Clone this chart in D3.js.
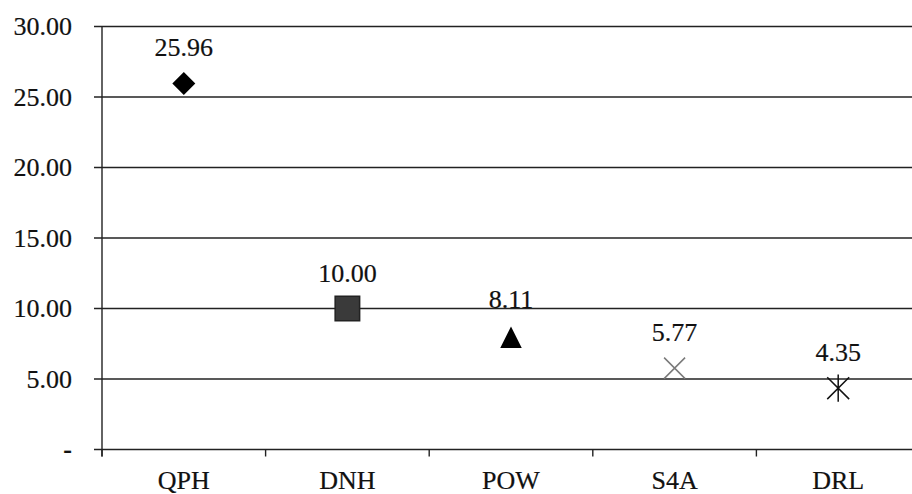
<!DOCTYPE html>
<html lang="en">
<head>
<meta charset="UTF-8">
<title>Scores by method</title>
<script src="https://d3js.org/d3.v7.min.js"></script>
<style>
  body { margin: 0; background: #fff; }
  text { font-family: "Liberation Serif", "Times New Roman", serif; fill: #111; stroke: #111; stroke-width: 0.2px; }
</style>
</head>
<body>
<svg id="chart" width="912" height="494"></svg>
<script>
const categories = ["QPH", "DNH", "POW", "S4A", "DRL"];
const values = [25.96, 10.00, 8.11, 5.77, 4.35];
const yTicks = [0, 5, 10, 15, 20, 25, 30];

const svg = d3.select("#chart");
const plotLeft = 102, plotRight = 920, plotTop = 26.5, plotBottom = 449.5;

const x = d3.scaleBand().domain(categories).range([plotLeft, plotRight]).padding(0);
const y = d3.scaleLinear().domain([0, 30]).range([plotBottom, plotTop]);

// custom symbols, centred on their bounding box like spreadsheet markers
const crossX = {
  draw(ctx, size) {
    const r = Math.sqrt(size) / 2;
    ctx.moveTo(-r, -r); ctx.lineTo(r, r);
    ctx.moveTo(r, -r); ctx.lineTo(-r, r);
  }
};
const star = {
  draw(ctx, size) {
    const r = Math.sqrt(size) / 2;
    ctx.moveTo(-r, -r); ctx.lineTo(r, r);
    ctx.moveTo(r, -r); ctx.lineTo(-r, r);
    ctx.moveTo(0, -r * 1.25); ctx.lineTo(0, r * 1.25);
  }
};
const triangle = {
  draw(ctx, size) {
    const r = Math.sqrt(size) / 2;
    ctx.moveTo(0, -r + 2);
    ctx.lineTo(r, r + 2);
    ctx.lineTo(-r, r + 2);
    ctx.closePath();
  }
};

const markers = [
  { type: d3.symbolSquare, size: 265, rotate: 45, fill: "#000", stroke: "none" },
  { type: d3.symbolSquare, size: 600, rotate: 0, fill: "#3a3a3a", stroke: "#222" },
  { type: triangle, size: 462, rotate: 0, fill: "#000", stroke: "none" },
  { type: crossX, size: 440, rotate: 0, fill: "none", stroke: "#7a7a7a" },
  { type: star, size: 480, rotate: 0, fill: "none", stroke: "#111" }
];

// gridlines
svg.append("g").selectAll("line").data(yTicks).join("line")
  .attr("x1", plotLeft - 8).attr("x2", plotRight)
  .attr("y1", d => y(d)).attr("y2", d => y(d))
  .attr("stroke", "#222").attr("stroke-width", 1.4);

// y axis
const yAxis = svg.append("g").attr("transform", `translate(${plotLeft},0)`)
  .call(d3.axisLeft(y).tickValues(yTicks).tickSize(0).tickPadding(30)
    .tickFormat(d => d === 0 ? "-" : d3.format(".2f")(d)));
yAxis.select(".domain").remove();
yAxis.selectAll("text").attr("font-size", 26).attr("font-family", "Liberation Serif").attr("fill", "#111")
  .attr("font-weight", d => d === 0 ? "bold" : null);
svg.append("line").attr("x1", plotLeft).attr("x2", plotLeft)
  .attr("y1", plotTop).attr("y2", plotBottom + 7)
  .attr("stroke", "#222").attr("stroke-width", 1.4);

// x ticks at band edges
const edges = categories.map(c => x(c)).concat([x(categories[categories.length - 1]) + x.bandwidth()]);
svg.append("g").selectAll("line").data(edges).join("line")
  .attr("x1", d => d).attr("x2", d => d)
  .attr("y1", plotBottom).attr("y2", plotBottom + 7)
  .attr("stroke", "#222").attr("stroke-width", 1.4);

svg.append("g").selectAll("text").data(categories).join("text")
  .attr("x", d => x(d) + x.bandwidth() / 2)
  .attr("y", 489)
  .attr("text-anchor", "middle")
  .attr("font-size", 26)
  .text(d => d);

// markers
const pts = categories.map((c, i) => ({ c, v: values[i], m: markers[i] }));
svg.append("g").selectAll("path").data(pts).join("path")
  .attr("transform", d => `translate(${x(d.c) + x.bandwidth() / 2},${y(d.v)}) rotate(${d.m.rotate})`)
  .attr("d", d => d3.symbol(d.m.type, d.m.size)())
  .attr("fill", d => d.m.fill)
  .attr("stroke", d => d.m.stroke)
  .attr("stroke-width", 1.5);

// value labels
svg.append("g").selectAll("text").data(pts).join("text")
  .attr("x", d => x(d.c) + x.bandwidth() / 2)
  .attr("y", d => y(d.v) - 27)
  .attr("text-anchor", "middle")
  .attr("font-size", 26)
  .text(d => d3.format(".2f")(d.v));
</script>
</body>
</html>
